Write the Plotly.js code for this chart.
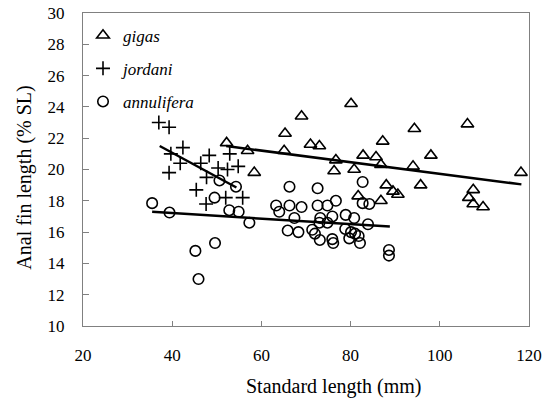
<!DOCTYPE html>
<html>
<head>
<meta charset="utf-8">
<script src="https://cdn.plot.ly/plotly-3.0.1.min.js"></script>
<style>html,body{margin:0;padding:0;background:#fff}#chart{width:551px;height:407px}</style>
</head>
<body>
<div id="chart"></div>
<script>
// gigas
var gigasSL  = [52.2,56.9,58.4,65.3,65.1,69.0,71.0,73.0,76.7,76.3,80.1,80.8,82.8,81.7,85.7,86.8,87.2,86.8,88.0,89.5,90.6,94.3,94.0,95.7,98.0,106.2,107.5,106.5,107.5,109.7,118.2];
var gigasAF  = [21.7,21.2,19.8,22.3,21.2,23.4,21.6,21.5,20.6,19.9,24.2,20.0,20.9,18.3,20.8,20.3,21.8,18.0,19.0,18.6,18.4,22.6,20.2,19.0,20.9,22.9,18.7,18.2,17.8,17.6,19.8];
// jordani
var jordaniSL = [37.0,39.3,39.7,42.4,41.8,39.3,48.3,46.4,52.9,50.3,52.4,54.8,47.7,45.4,52.0,55.8,47.6];
var jordaniAF = [23.0,22.7,21.0,21.4,20.4,19.8,20.9,20.4,21.0,20.1,20.0,20.2,19.5,18.7,18.2,18.2,17.8];
// annulifera
var annSL = [35.5,39.4,50.6,54.3,49.5,52.8,54.9,57.3,49.6,45.2,45.9,66.3,63.3,64.0,66.3,69.0,67.4,65.9,68.3,71.4,72.6,72.6,73.2,73.1,74.8,76.7,75.9,74.8,73.0,72.0,75.9,76.1,78.9,80.8,78.8,80.1,81.0,79.7,82.1,81.8,83.9,82.7,84.2,88.6,88.6,82.7];
var annAF = [17.85,17.25,19.3,18.9,18.2,17.4,17.3,16.6,15.3,14.8,13.0,18.9,17.7,17.3,17.7,17.6,16.9,16.1,16.0,16.15,18.8,17.7,16.9,15.5,17.7,18.0,17.0,16.6,16.6,15.9,15.55,15.3,17.1,16.9,16.2,16.0,15.9,15.6,15.3,15.75,16.5,17.85,17.8,14.86,14.5,19.2];
// trend line endpoints
var gigasLineX = [52.1,118.3], gigasLineY = [21.5,19.05];
var jordaniLineX = [37.2,54.4], jordaniLineY = [21.5,18.85];
var annLineX = [35.5,88.8], annLineY = [17.3,16.35];

var xTicks = [20,40,60,80,100,120];
var yTicks = [10,12,14,16,18,20,22,24,26,28,30];
var xTitle = 'Standard length (mm)';
var yTitle = 'Anal fin length (% SL)';

var mk = function(sym, size){ return {symbol: sym, size: size, color: '#000', line: {color: '#000', width: 1.6}}; };
var serif = 'Liberation Serif';

var traces = [
  {x: gigasSL, y: gigasAF, mode: 'markers', type: 'scatter', name: '<i>gigas</i>', legendgroup: 'a', marker: mk('triangle-up-open', 11)},
  {x: jordaniSL, y: jordaniAF, mode: 'markers', type: 'scatter', name: '<i>jordani</i>', legendgroup: 'b', marker: mk('cross-thin-open', 10)},
  {x: annSL, y: annAF, mode: 'markers', type: 'scatter', name: '<i>annulifera</i>', legendgroup: 'c', marker: mk('circle-open', 10.5)},
  {x: gigasLineX, y: gigasLineY, mode: 'lines', type: 'scatter', showlegend: false, line: {color: '#000', width: 2.5}, hoverinfo: 'skip'},
  {x: jordaniLineX, y: jordaniLineY, mode: 'lines', type: 'scatter', showlegend: false, line: {color: '#000', width: 2.5}, hoverinfo: 'skip'},
  {x: annLineX, y: annLineY, mode: 'lines', type: 'scatter', showlegend: false, line: {color: '#000', width: 2.5}, hoverinfo: 'skip'}
];

var layout = {
  width: 551, height: 407,
  margin: {l: 83, r: 22, t: 13, b: 81, pad: 0},
  paper_bgcolor: '#fff', plot_bgcolor: '#fff',
  font: {family: serif, color: '#000', size: 17},
  showlegend: true,
  legend: {x: 0.0, y: 0.985, xanchor: 'left', yanchor: 'top', bgcolor: 'rgba(0,0,0,0)', font: {family: serif, size: 17, color: '#000'}, tracegroupgap: 8, itemwidth: 30},
  xaxis: {
    range: [20, 120], tickmode: 'array', tickvals: xTicks, ticks: 'inside', ticklen: 5, tickcolor: '#808080', tickwidth: 1,
    showline: true, linecolor: '#808080', linewidth: 1, mirror: true, showgrid: false, zeroline: false,
    tickfont: {family: serif, size: 17, color: '#000'}, ticklabelstandoff: 14
  },
  yaxis: {
    range: [10, 30], tickmode: 'array', tickvals: yTicks, ticks: 'inside', ticklen: 6, tickcolor: '#808080', tickwidth: 1,
    showline: true, linecolor: '#808080', linewidth: 1, mirror: true, showgrid: false, zeroline: false,
    tickfont: {family: serif, size: 17, color: '#000'}, ticklabelstandoff: 14
  },
  annotations: [
    {text: xTitle, xref: 'paper', yref: 'paper', x: 0.563, y: -0.192, xanchor: 'center', yanchor: 'middle', showarrow: false, font: {family: serif, size: 20, color: '#000'}},
    {text: yTitle, xref: 'paper', yref: 'paper', x: -0.130, y: 0.474, xanchor: 'center', yanchor: 'middle', showarrow: false, textangle: -90, font: {family: serif, size: 20, color: '#000'}}
  ]
};

Plotly.newPlot('chart', traces, layout, {displayModeBar: false, staticPlot: true});
</script>
</body>
</html>
